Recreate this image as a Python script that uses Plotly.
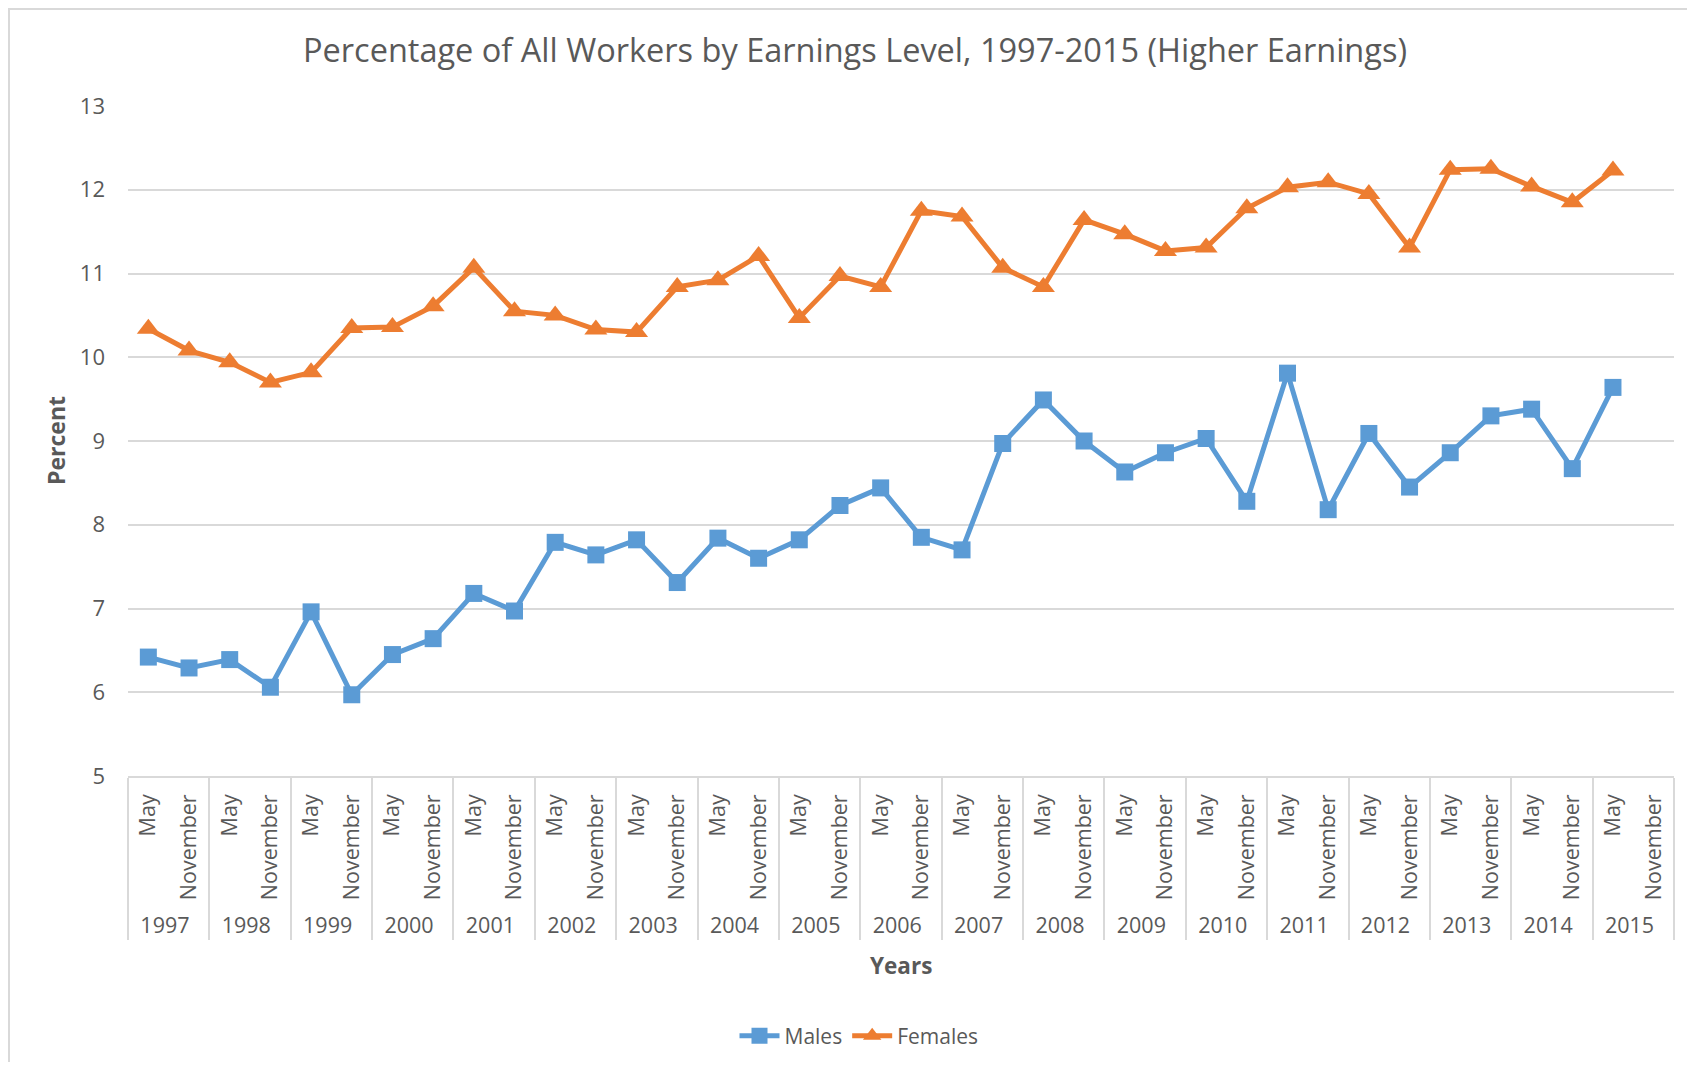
import plotly.graph_objects as go

years = [str(y) for y in range(1997, 2016)]
months = ["May", "November"]

males = [6.42, 6.29, 6.39, 6.06, 6.96, 5.97, 6.45, 6.64, 7.18, 6.97,
         7.79, 7.64, 7.82, 7.31, 7.84, 7.60, 7.82, 8.23, 8.44, 7.85,
         7.70, 8.97, 9.49, 9.00, 8.63, 8.86, 9.03, 8.28, 9.81, 8.18,
         9.09, 8.45, 8.86, 9.30, 9.38, 8.67, 9.64, None]
females = [10.34, 10.08, 9.94, 9.70, 9.82, 10.35, 10.36, 10.61, 11.07, 10.55,
           10.50, 10.33, 10.30, 10.84, 10.92, 11.21, 10.47, 10.97, 10.84, 11.75,
           11.68, 11.07, 10.84, 11.64, 11.47, 11.27, 11.31, 11.78, 12.03, 12.09,
           11.95, 11.31, 12.24, 12.25, 12.04, 11.85, 12.23, None]

x_years = [y for y in years for m in months]
x_months = [m for y in years for m in months]

# page body has an 8px margin; work in page coordinates and convert
OFF = 8
W, H = 1695 - 2 * OFF, 1070 - 2 * OFF
PL, PR, PT, PB = 128, 1674, 106, 776          # plot area in page pixels
L, T = PL - OFF, PT - OFF
R = W - (PR - OFF)
B = H - (PB - OFF)
PW, PH = PR - PL, PB - PT
FONT = "Open Sans"
TXT = "#595959"
GRID = "#d9d9d9"

def px(xpage):
    return (xpage - PL) / PW

def py(ypage):
    return (PB - ypage) / PH

fig = go.Figure()
fig.add_trace(go.Scatter(
    x=[x_years, x_months], y=males, name="Males", mode="lines+markers",
    line=dict(color="#5B9BD5", width=5),
    marker=dict(symbol="square", size=17, color="#5B9BD5"),
))
fig.add_trace(go.Scatter(
    x=[x_years, x_months], y=females, name="Females", mode="lines+markers",
    line=dict(color="#ED7D31", width=5),
    marker=dict(symbol="triangle-up", size=20, color="#ED7D31"),
))

fig.update_layout(
    width=W, height=H,
    margin=dict(l=L, r=R, t=T, b=B, autoexpand=False),
    paper_bgcolor="white", plot_bgcolor="white",
    font=dict(family=FONT, color=TXT, size=21),
    title=dict(text="Percentage of All Workers by Earnings Level, 1997-2015 (Higher Earnings)",
               x=(855 - OFF) / W, xanchor="center", y=1 - (51 - OFF) / H, yanchor="middle",
               font=dict(family=FONT, size=32.5, color=TXT)),
    showlegend=True,
    legend=dict(orientation="h", x=px(859), xanchor="center", y=py(1036), yanchor="middle",
                font=dict(family=FONT, size=21, color=TXT), bgcolor="rgba(0,0,0,0)",
                itemwidth=40),
    xaxis=dict(
        type="multicategory", tickangle=-90, ticks="",
        showgrid=False, showline=True, linecolor=GRID, linewidth=1.5,
        showdividers=True, dividercolor=GRID, dividerwidth=1.5,
        tickfont=dict(family=FONT, size=21.5, color=TXT), ticklabelstandoff=8,
        automargin=False, range=[-0.5, 37.5],
    ),
    yaxis=dict(
        range=[5, 13], dtick=1, tick0=5, showgrid=True, gridcolor=GRID, gridwidth=1.5,
        zeroline=False, showline=False, ticks="", ticklabelstandoff=22,
        tickfont=dict(family=FONT, size=22, color=TXT), automargin=False,
    ),
    annotations=[
        dict(text="<b>Percent</b>", xref="paper", yref="paper", x=px(56), y=0.5,
             textangle=-90, showarrow=False, xanchor="center", yanchor="middle",
             font=dict(family=FONT, size=23, color=TXT)),
        dict(text="<b>Years</b>", xref="paper", yref="paper", x=px(901), y=py(965),
             showarrow=False, xanchor="center", yanchor="middle",
             font=dict(family=FONT, size=22.5, color=TXT)),
    ],
    shapes=[
        dict(type="rect", xref="paper", yref="paper", x0=px(OFF + 1), x1=px(1760),
             y0=py(1100), y1=py(OFF + 1), line=dict(color=GRID, width=2), layer="below"),
    ],
)

fig.write_html("out.html")
